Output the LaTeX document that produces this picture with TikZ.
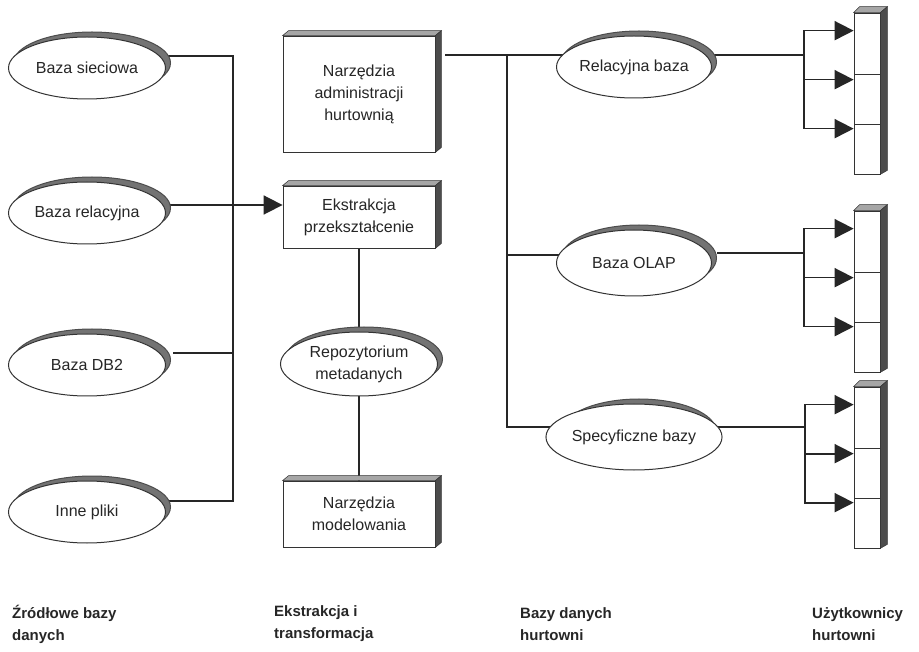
\documentclass[tikz,border=0pt]{standalone}
\usepackage{fontspec}
\setmainfont{Liberation Sans}
\usetikzlibrary{shapes.geometric,arrows.meta,calc}
\pgfdeclarelayer{background}
\pgfsetlayers{background,main}

\tikzset{
  baza/.style={ellipse, draw=black!80, line width=1pt, fill=white, minimum width=157pt,
    minimum height=62pt, inner sep=0pt, align=center},
  cien/.style={ellipse, draw=black!70, fill=black!55, line width=1pt, minimum width=157pt,
    minimum height=62pt, inner sep=0pt},
  narzedzie/.style={rectangle, draw=black!80, line width=0.8pt, fill=white,
    minimum width=152pt, inner sep=0pt, align=center},
  komorka/.style={rectangle, draw=black!80, line width=0.7pt, fill=white,
    minimum width=26pt, inner sep=0pt},
  bokjasny/.style={draw=black!80, line width=0.5pt, fill=black!35},
  bokciemny/.style={draw=black!80, line width=0.5pt, fill=black!70},
  lacze/.style={line width=1.7pt, draw=black!85},
  strzalka/.style={lacze, -{Triangle[length=19pt,width=19pt]}},
  opis/.style={font=\fontsize{15}{22}\selectfont\bfseries, align=left, anchor=west, inner sep=0pt}
}

\begin{document}
\begin{tikzpicture}[x=1pt, y=-1pt, font=\fontsize{16}{22}\selectfont, text=black!85]
\useasboundingbox (0,0) rectangle (919,652);

% cienie elips
\foreach \x/\y/\w/\h [count=\i] in {87/68/157/62, 87/213/157/62, 87/365/157/62, 87/512/157/62,
    359/364/157/64, 634/67/155/62, 634/263/155/66, 634/437/155/66}
  \node[cien, minimum width=\w pt, minimum height=\h pt] (cien\i) at (\x+5,\y-5) {};

% zrodlowe bazy danych
\node[baza] (bs) at (87,68) {Baza sieciowa};
\node[baza] (brel) at (87,213) {Baza relacyjna};
\node[baza] (db2) at (87,365) {Baza DB2};
\node[baza] (inne) at (87,512) {Inne pliki};

% ekstrakcja i transformacja
\node[narzedzie, minimum height=116pt] (admin) at (359,94) {Narzędzia\\administracji\\hurtownią};
\node[narzedzie, minimum height=62pt] (ekstr) at (359,217) {Ekstrakcja\\przekształcenie};
\node[baza, minimum height=64pt] (repo) at (359,364) {Repozytorium\\metadanych};
\node[narzedzie, minimum height=66pt] (model) at (359,514) {Narzędzia\\modelowania};
\foreach \n in {admin,ekstr,model}{
  \filldraw[bokjasny] (\n.north west) -- ++(6pt,5pt) -- ([shift={(6pt,5pt)}]\n.north east) -- (\n.north east) -- cycle;
  \filldraw[bokciemny] (\n.north east) -- ++(6pt,5pt) -- ([shift={(6pt,5pt)}]\n.south east) -- (\n.south east) -- cycle;
}

% bazy danych hurtowni
\node[baza, minimum width=155pt] (rbz) at (634,67) {Relacyjna baza};
\node[baza, minimum width=155pt, minimum height=66pt] (olap) at (634,263) {Baza OLAP};
\node[baza, minimum width=155pt, minimum height=66pt] (spec) at (634,437) {Specyficzne bazy};

% uzytkownicy hurtowni
\foreach \g/\t in {1/13, 2/211, 3/387}{
  \node[komorka, minimum height=61pt] (u\g-a) at (867,\t+30.5) {};
  \node[komorka, minimum height=50pt] (u\g-b) at (867,\t+86) {};
  \node[komorka, minimum height=50pt] (u\g-c) at (867,\t+136) {};
  \filldraw[bokjasny] (u\g-a.north west) -- ++(6pt,6pt) -- ([shift={(7pt,6pt)}]u\g-a.north east) -- (u\g-a.north east) -- cycle;
  \filldraw[bokciemny] (u\g-a.north east) -- ++(7pt,6pt) -- ([shift={(7pt,4pt)}]u\g-c.south east) -- (u\g-c.south east) -- cycle;
}

% podpisy kolumn
\node[opis] (zr) at (12,624) {Źródłowe bazy\\danych};
\node[opis] (ek) at (274,624) {Ekstrakcja i\\transformacja};
\node[opis] (bd) at (520,624) {Bazy danych\\hurtowni};
\node[opis] (uz) at (812,624) {Użytkownicy\\hurtowni};

\begin{pgfonlayer}{background}
  \coordinate (lg) at (233,56);
  \coordinate (ld) at (233,501);
  \coordinate (ldb) at (233,353);
  \coordinate (ewe) at ([yshift=12pt]ekstr.west);
  \draw[lacze] (lg -| bs) -- (lg) -- (ld) -- (ld -| inne);
  \draw[lacze] ($(ldb -| db2.east)+(7pt,0)$) -- (ldb);
  \draw[strzalka] (brel.center |- ewe) -- (ewe);
  \draw[lacze] (ekstr) -- (repo) -- (model);

  \coordinate (mt) at (507,55);
  \coordinate (mo) at (507,255);
  \coordinate (mb) at (507,427);
  \draw[lacze] ($(mt -| admin.east)+(10pt,0)$) -- (mt -| rbz);
  \draw[lacze] (mt) -- (mb) -- (mb -| spec);
  \draw[lacze] (mo) -- (mo -| olap);

  \coordinate (j1) at (804,55);
  \coordinate (j2) at (804,253);
  \coordinate (j3) at (805,427);
  \draw[lacze] (j1 -| rbz) -- (j1);
  \draw[lacze] ($(j2 -| olap.east)+(5pt,0)$) -- (j2);
  \draw[lacze] (j3 -| spec) -- (j3);
  \foreach \g in {1,2,3}{
    \draw[strzalka] (j\g) |- ([yshift=-18pt]u\g-a.north west);
    \draw[strzalka] (j\g) |- ([yshift=-6pt]u\g-b.north west);
    \draw[strzalka] (j\g) |- ([yshift=-5pt]u\g-c.north west);
  }
\end{pgfonlayer}
\end{tikzpicture}
\end{document}
